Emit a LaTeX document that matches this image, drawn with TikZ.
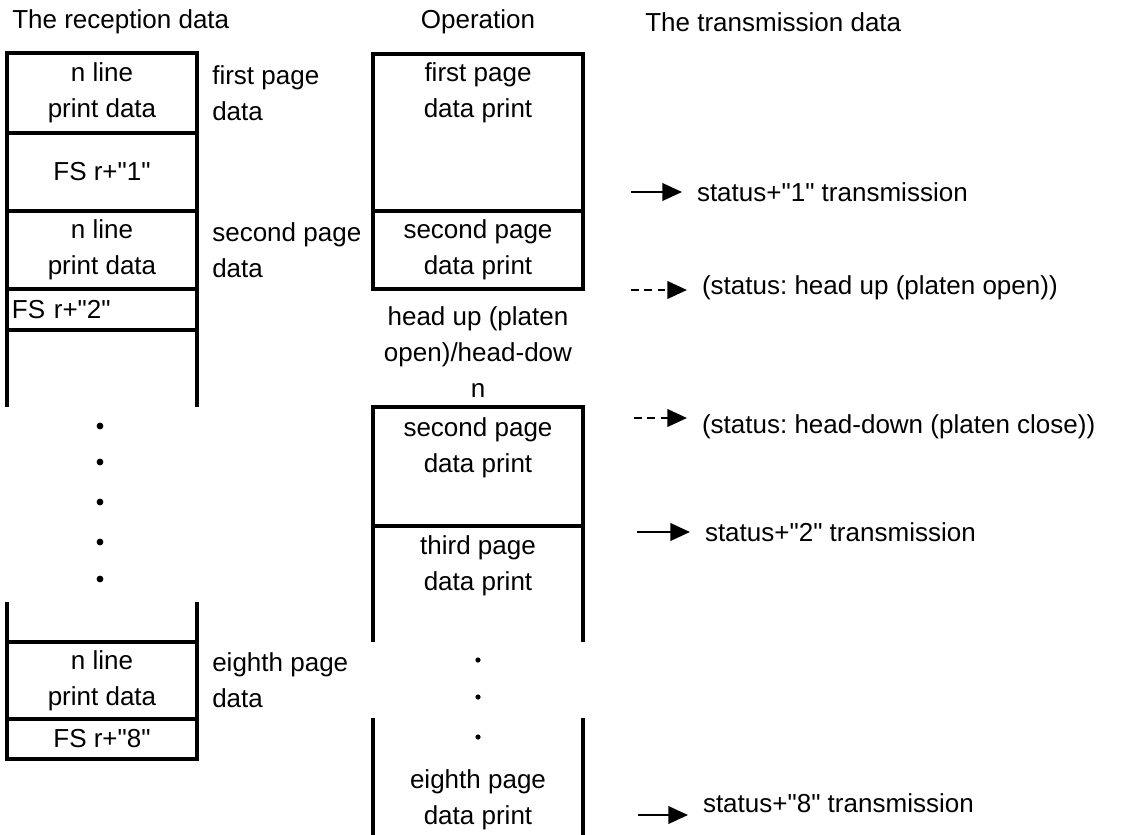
\documentclass[tikz,border=0pt]{standalone}
\usepackage{fontspec}
\setmainfont{Liberation Sans}[Ligatures=TeXOff]
\frenchspacing
\usetikzlibrary{positioning,arrows.meta}
\tikzset{
  rowbox/.style={
    draw,
    line width=2.3pt,
    minimum width=4.75cm,
    inner sep=0pt,
    align=center
  },
  opbox/.style={
    draw,
    line width=2.3pt,
    minimum width=5.25cm,
    inner sep=0pt,
    align=center
  },
  frame/.style={line width=2.3pt},
  celltext/.style={align=center,inner sep=0pt},
  sidetext/.style={align=left,anchor=west,inner sep=0pt},
  headtext/.style={inner sep=0pt},
  gapdot/.style={circle,fill,inner sep=0pt,minimum size=0.17cm},
  statustext/.style={anchor=west,inner sep=0pt,outer sep=0.375cm},
  sendarrow/.style={-{Triangle[length=14pt,width=12.5pt]},line width=1.5pt},
  eventarrow/.style={sendarrow,dash pattern=on 5.5pt off 4pt}
}

\begin{document}
\begin{tikzpicture}[x=0.025cm,y=-0.025cm,font=\fontsize{18.5pt}{25.6pt}\selectfont]
    \useasboundingbox (0,0) rectangle (1127,835);
    % headings
    \node[headtext,anchor=west] (hrecv) at (12,22) {The reception data};
    \node[headtext] (hop) at (478,22) {Operation};
    \node[headtext,anchor=west] (hsend) at (645,22) {The transmission data};
    % reception data
    \node[rowbox,minimum height=2cm] (line1) at (102,93) {n line\\print data};
    \node[rowbox,minimum height=1.95cm] (fs1) at (102,172) {FS r+"1"};
    \node[rowbox,minimum height=1.95cm] (line2) at (102,250) {n line\\print data};
    \node[rowbox,minimum height=1.025cm,text width=4.5cm,align=left] (fs2) at (102,309.5) {FS r+"2"};
    \draw[frame] (7,330) -- (7,407) (197,330) -- (197,407);
    \foreach \y in {426,462,502,542,579}
      \node[gapdot] (rdot\y) at (100,\y) {};
    \draw[frame] (7,602) -- (7,642) (197,602) -- (197,642);
    \node[rowbox,minimum height=1.925cm] (line8) at (102,680.5) {n line\\print data};
    \node[rowbox,minimum height=1cm] (fs8) at (102,739) {FS r+"8"};
    \node[sidetext] (page1) at (212,93) {first page\\data};
    \node[sidetext] (page2) at (212,250) {second page\\data};
    \node[sidetext] (page8) at (212,680.5) {eighth page\\data};
    % operation
    \node[opbox,minimum height=3.925cm] (op1) at (478,132.5) {};
    \node[celltext] (op1txt) at (478,93) {first page\\data print};
    \node[opbox,minimum height=1.95cm] (op2) at (478,250) {second page\\data print};
    \node[celltext] (headmsg) at (478,352) {head up (platen\\open)/head-dow\\n};
    \node[opbox,minimum height=2.975cm] (op3) at (478,466.5) {};
    \node[celltext] (op3txt) at (478,448) {second page\\data print};
    \draw[frame] (373,526) -- (373,642) (583,526) -- (583,642);
    \node[celltext] (op4txt) at (478,566) {third page\\data print};
    \foreach \y in {660,697,737}
      \node[gapdot,minimum size=0.13cm] (odot\y) at (478,\y) {};
    \draw[frame] (373,718) -- (373,835) (583,718) -- (583,835);
    \node[celltext] (op8txt) at (478,800) {eighth page\\data print};
    % transmission data
    \coordinate (a1) at (631,192);
    \node[statustext] (st1) at (682,192) {status+"1" transmission};
    \draw[sendarrow] (a1) -- (st1);
    \coordinate (a2) at (631,290);
    \node[statustext] (st2) at (687,288) {(status: head up (platen open))};
    \draw[eventarrow] (a2) -- (a2 -| st2.west);
    \coordinate (a3) at (634,418);
    \node[statustext] (st3) at (687,427) {(status: head-down (platen close))};
    \draw[eventarrow] (a3) -- (a3 -| st3.west);
    \coordinate (a4) at (637,532);
    \node[statustext] (st4) at (690,532) {status+"2" transmission};
    \draw[sendarrow] (a4) -- (st4);
    \coordinate (a8) at (638,815);
    \node[statustext] (st8) at (688,803) {status+"8" transmission};
    \draw[sendarrow] (a8) -- (a8 -| st8.west);
  \end{tikzpicture}
\end{document}
